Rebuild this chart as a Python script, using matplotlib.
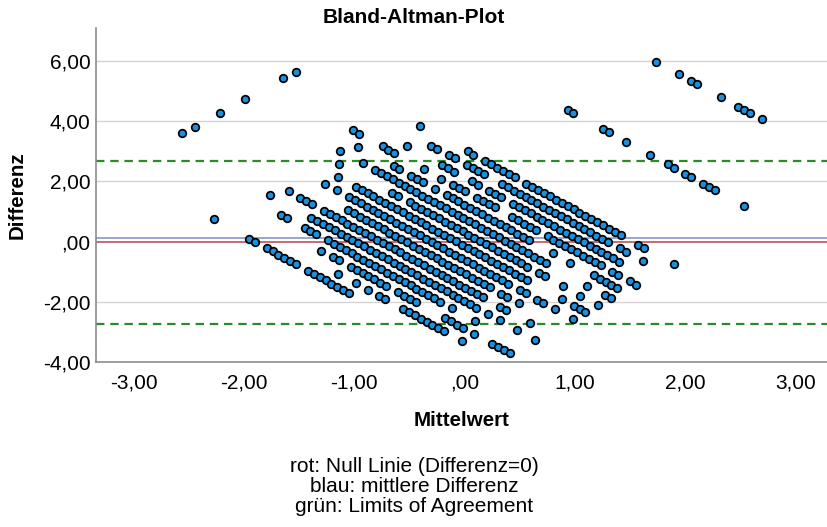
import matplotlib
matplotlib.use("Agg")
import matplotlib.pyplot as plt

# ---- data: discrete levels of the two measurements (read off the point lattice) ----
# measurement 1 levels (rows of points, constant x1)
X1_LEVELS = {0: -1.904, 1: -1.675, 2: -1.447, 3: -1.218, 4: -0.990, 5: -0.761,
             6: -0.532, 7: -0.304, 8: -0.075, 9: 0.153, 10: 0.382, 11: 0.611,
             12: 0.839, 13: 1.068, 14: 1.296, 15: 1.525, 22: 3.125, 29: 4.725}
# measurement 2 levels
X2_LEVELS = {-16: -4.353, -2: -2.858, -1: -2.751,
             0: -2.644, 1: -2.537, 2: -2.430, 3: -2.324, 4: -2.217, 5: -2.110,
             6: -2.003, 7: -1.896, 8: -1.790, 9: -1.683, 10: -1.576, 11: -1.469,
             12: -1.362, 13: -1.256, 14: -1.149, 15: -1.042, 16: -0.935, 17: -0.828,
             18: -0.722, 19: -0.615, 20: -0.508, 21: -0.401, 22: -0.294, 23: -0.188,
             24: -0.081, 25: 0.026, 26: 0.133, 27: 0.240, 28: 0.346, 29: 0.453,
             30: 0.560, 31: 0.667, 32: 0.774, 33: 0.880, 34: 0.987, 35: 1.094,
             36: 1.201, 37: 1.308, 38: 1.414, 39: 1.521, 40: 1.628, 41: 1.735,
             42: 1.842, 43: 1.948, 44: 2.055, 45: 2.162, 46: 2.269}
# which measurement-2 levels occur together with each measurement-1 level
PAIRS = {
    0: "0,6-7,9-14,16-23",
    1: "19,22,24,26-27,30-37,40",
    2: "14,16-17,19-25,27-30,35-38,40,43-46",
    3: "5-6,9-11,13-32,34,38",
    4: "1,8-36,38,40,43,46",
    5: "-16,2,4-6,8-35,38-39,43",
    6: "-16,10-34,36-37,39",
    7: "4,6,8-35,37-38,40-41,43,46",
    8: "-16,4,7-36,42,44-46",
    9: "2,11-12,14-34,36-37,40,43,46",
    10: "-16,0,4,6-35,42,45-46",
    11: "1,7-8,10-12,14,16-30,34,37,41-45",
    12: "-2,-1,3-5,10,13,15-17,19-22,25-29,31-40,42-43,45-46",
    13: "-16,5,11-13,16-17,19-21,23-41",
    14: "-16,7-8,10-11,13-16,19-37,39-40,43",
    15: "3,11-12,14-19,21-37,40-41,46",
    22: "13-14,19-20,23,27,30-31,33-34,36-38,43",
    29: "13,17,19-20,24,27-29,31",
}
MEAN_DIFF = 0.13
LOA_UPPER = 2.68
LOA_LOWER = -2.75
ZERO_LINE = 0.0

X_TICKS = [-3, -2, -1, 0, 1, 2, 3]
X_TICKLABELS = ["-3,00", "-2,00", "-1,00", ",00", "1,00", "2,00", "3,00"]
Y_TICKS = [-4, -2, 0, 2, 4, 6]
Y_TICKLABELS = ["-4,00", "-2,00", ",00", "2,00", "4,00", "6,00"]

TITLE = "Bland-Altman-Plot"
XLABEL = "Mittelwert"
YLABEL = "Differenz"
CAPTION = ["rot: Null Linie (Differenz=0)", "blau: mittlere Differenz",
           "grün: Limits of Agreement"]


def expand(spec):
    out = []
    for part in spec.split(","):
        if "-" in part[1:]:
            k = part.index("-", 1)
            a, b = int(part[:k]), int(part[k + 1:])
            out.extend(range(a, b + 1))
        else:
            out.append(int(part))
    return out


means, diffs = [], []
for r, spec in PAIRS.items():
    x1 = X1_LEVELS[r]
    for j in expand(spec):
        x2 = X2_LEVELS[j]
        means.append((x1 + x2) / 2.0)
        diffs.append(x1 - x2)

plt.rcParams["font.family"] = ["Liberation Sans", "DejaVu Sans"]

W, H = 828, 527
fig = plt.figure(figsize=(W / 100, H / 100), dpi=100)
ax = fig.add_axes([96 / W, 1 - 362 / H, (828 - 96) / W, (362 - 28) / H])

ax.set_xlim(-3.341, 3.296)
ax.set_ylim(-4.0, 7.096)

for y in [-2, 2, 4, 6]:
    ax.axhline(y, color="#d4d4d4", lw=1.0, zorder=0)

ax.axhline(ZERO_LINE, color="#b5454c", lw=1.1, zorder=1)
ax.axhline(MEAN_DIFF, color="#7f8cc8", lw=1.1, zorder=1)
for y in (LOA_UPPER, LOA_LOWER):
    ax.axhline(y, color="#2b8b2b", lw=1.6, ls=(0, (3.8, 2.6)), zorder=1)

ax.scatter(means, diffs, s=30, facecolor="#1a90e0", edgecolor="black",
           linewidths=1.25, zorder=3)

for s in ("top", "right"):
    ax.spines[s].set_visible(False)
for s in ("left", "bottom"):
    ax.spines[s].set_color("#8c8c8c")
    ax.spines[s].set_linewidth(1.2)

ax.set_xticks(X_TICKS)
ax.set_xticklabels(X_TICKLABELS)
ax.set_yticks(Y_TICKS)
ax.set_yticklabels(Y_TICKLABELS)
ax.tick_params(axis="both", length=0, labelsize=15, colors="black")
ax.tick_params(axis="x", pad=8)
ax.tick_params(axis="y", pad=4)

fig.text(414 / W, 1 - 23 / H, TITLE, ha="center", va="baseline",
         fontsize=15, fontweight="bold")
fig.text(462 / W, 1 - 421 / H, XLABEL, ha="center", va="center",
         fontsize=14.8, fontweight="bold")
fig.text(17 / W, 1 - 195 / H, YLABEL, ha="center", va="center",
         rotation=90, fontsize=14.8, fontweight="bold")
for k, line in enumerate(CAPTION):
    fig.text(414 / W, 1 - (467 + 20 * k) / H, line, ha="center", va="center",
             fontsize=15)

fig.savefig("out.png", dpi=100)
